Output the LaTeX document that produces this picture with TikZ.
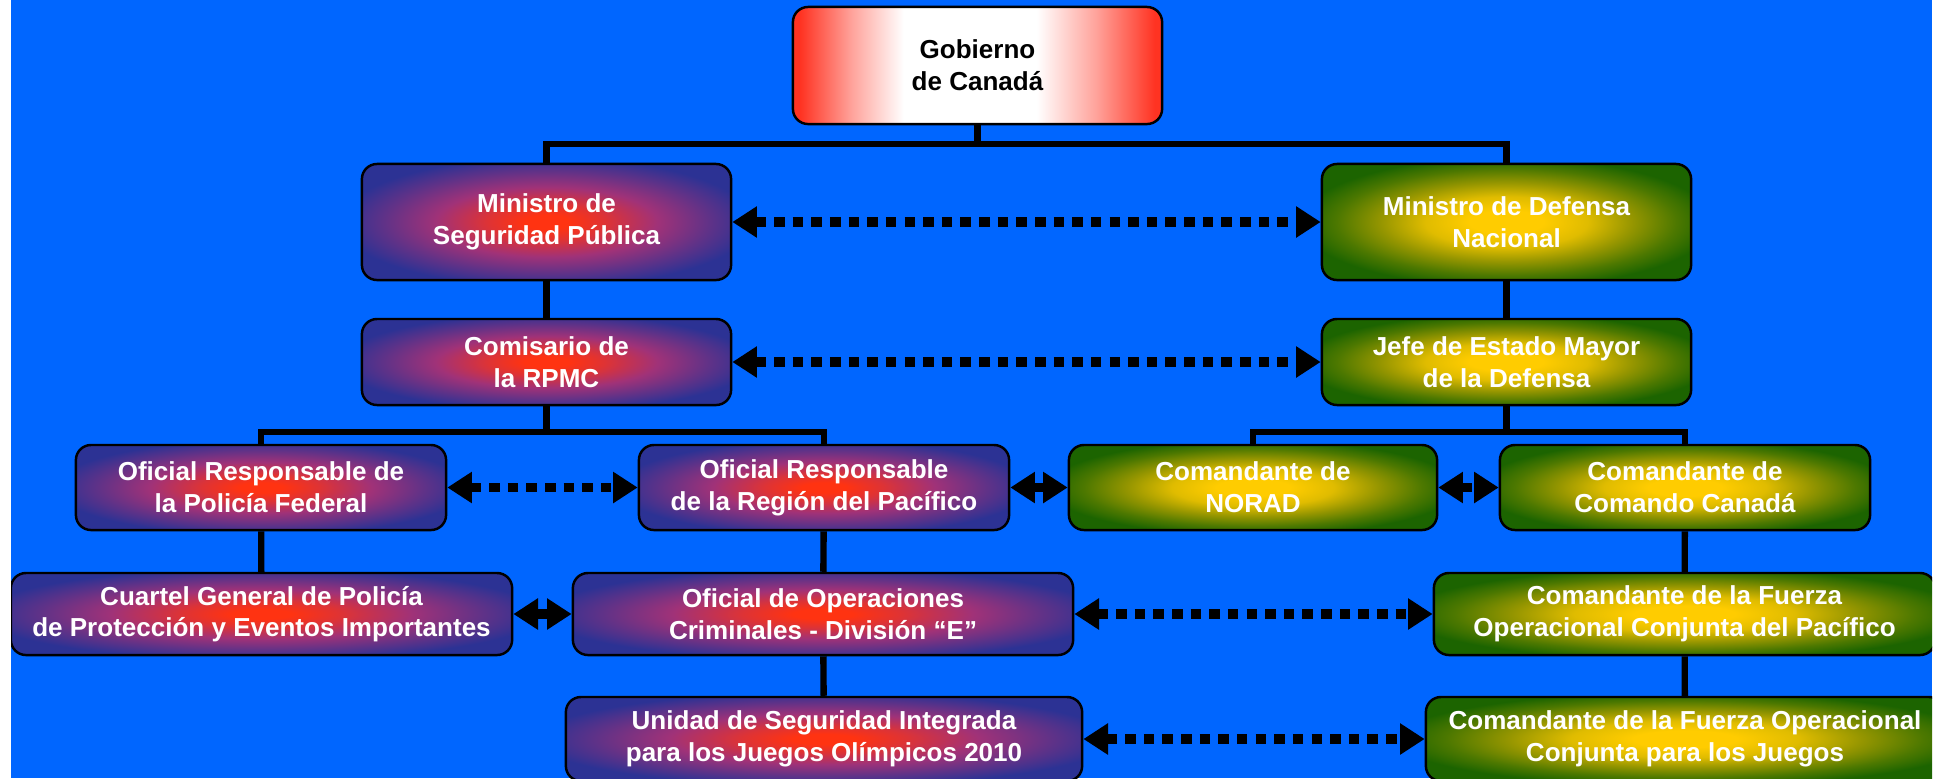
\documentclass[tikz,border=0pt]{standalone}
\usepackage{fontspec}
\setmainfont{Liberation Sans}
\usetikzlibrary{arrows.meta}

\definecolor{fondo}{RGB}{0,102,255}
\definecolor{rojo}{RGB}{255,51,17}
\definecolor{azul}{RGB}{44,50,148}
\definecolor{morado}{RGB}{160,50,120}
\definecolor{amarillo}{RGB}{255,204,0}
\definecolor{oliva}{RGB}{150,150,0}
\definecolor{verde}{RGB}{28,100,0}
\definecolor{rojogob}{RGB}{255,51,34}

\pgfdeclareradialshading{policia}{\pgfpoint{0bp}{0bp}}{color(0bp)=(rojo); color(3bp)=(rojo); color(8bp)=(rojo!65!morado); color(15bp)=(morado); color(22bp)=(morado!45!azul); color(28bp)=(azul); color(100bp)=(azul)}
\pgfdeclareradialshading{defensa}{\pgfpoint{0bp}{0bp}}{color(0bp)=(amarillo); color(5bp)=(amarillo); color(11bp)=(amarillo!70!oliva); color(17bp)=(oliva); color(23bp)=(oliva!40!verde); color(28bp)=(verde); color(100bp)=(verde)}
\pgfdeclarehorizontalshading{gobierno}{100bp}{color(0bp)=(rojogob); color(26bp)=(rojogob); color(33bp)=(rojogob!45!white); color(40bp)=(white); color(58bp)=(white); color(66bp)=(rojogob!45!white); color(74bp)=(rojogob); color(100bp)=(rojogob)}

\tikzset{
  caja/.style={draw=black, line width=0.7pt, rounded corners=4.3pt, inner sep=0pt, align=center, text=white, font=\fontsize{7.4}{9}\selectfont\bfseries},
  cajapol/.style={caja, shading=policia},
  cajadef/.style={caja, shading=defensa},
  link/.style={line width=1.8pt},
  enlace/.style={line width=2.6pt, dash pattern=on 3pt off 2.3pt, {Triangle[length=7pt,width=8.5pt]}-{Triangle[length=7pt,width=8.5pt]}}
}

\begin{document}
\begin{tikzpicture}[x=0.01cm, y=-0.01cm]
\useasboundingbox (0,0) rectangle (1943,778);
\fill[white] (0,0) rectangle (1943,778);
\fill[fondo] (11,0) rectangle (1932,778);
\begin{scope}
\clip (11,0) rectangle (1932,778);

% top
\node[caja, shading=gobierno, text=black, minimum width=3.69cm, minimum height=1.17cm] (gob) at (977.5,65.5) {Gobierno\\de Canadá};

% seguridad publica
\node[cajapol, minimum width=3.69cm, minimum height=1.16cm] (minsp) at (546.5,222) {Ministro de\\Seguridad Pública};
\node[cajapol, minimum width=3.69cm, minimum height=0.86cm] (comis) at (546.5,362) {Comisario de\\la RPMC};
\node[cajapol, minimum width=3.7cm, minimum height=0.85cm] (offed) at (261,487.5) {Oficial Responsable de\\la Policía Federal};
\node[cajapol, minimum width=3.7cm, minimum height=0.85cm] (ofpac) at (824,487.5) {Oficial Responsable\\de la Región del Pacífico};
\node[cajapol, minimum width=5.01cm, minimum height=0.82cm] (cuartel) at (261.5,614) {Cuartel General de Policía\\de Protección y Eventos Importantes};
\node[cajapol, minimum width=5.0cm, minimum height=0.82cm] (oper) at (823,614) {Oficial de Operaciones\\Criminales - División “E”};
\node[cajapol, minimum width=5.16cm, minimum height=0.84cm] (unidad) at (824,739) {Unidad de Seguridad Integrada\\para los Juegos Olímpicos 2010};

% defensa
\node[cajadef, minimum width=3.69cm, minimum height=1.16cm] (mindn) at (1506.5,222) {Ministro de Defensa\\Nacional};
\node[cajadef, minimum width=3.69cm, minimum height=0.86cm] (jefe) at (1506.5,362) {Jefe de Estado Mayor\\de la Defensa};
\node[cajadef, minimum width=3.68cm, minimum height=0.85cm] (norad) at (1253,487.5) {Comandante de\\NORAD};
\node[cajadef, minimum width=3.7cm, minimum height=0.85cm] (comcan) at (1685,487.5) {Comandante de\\Comando Canadá};
\node[cajadef, minimum width=5.01cm, minimum height=0.82cm] (fzpac) at (1684.5,614) {Comandante de la Fuerza\\Operacional Conjunta del Pacífico};
\node[cajadef, minimum width=5.18cm, minimum height=0.84cm] (fojue) at (1685,739) {Comandante de la Fuerza Operacional\\Conjunta para los Juegos};

% lineas de mando
\coordinate (r1) at (977,144);
\coordinate (r2) at (546,432);
\coordinate (r3) at (1507,432);
\draw[link] (gob.south) -- (gob.south |- r1);
\draw[link] (minsp.north) |- (r1) -| (mindn.north);
\draw[link] (minsp) -- (comis);
\draw[link] (mindn) -- (jefe);
\draw[link] (comis.south) -- (comis.south |- r2);
\draw[link] (offed.north) |- (r2) -| (ofpac.north);
\draw[link] (jefe.south) -- (jefe.south |- r3);
\draw[link] (norad.north) |- (r3) -| (comcan.north);
\draw[link] (offed) -- (cuartel);
\draw[link] (ofpac) -- (oper);
\draw[link] (oper) -- (unidad);
\draw[link] (comcan) -- (fzpac);
\draw[link] (fzpac) -- (fojue);

% coordinacion
\draw[enlace] (minsp.east) -- (mindn.west);
\draw[enlace] (comis.east) -- (jefe.west);
\draw[enlace] (offed.east) -- (ofpac.west);
\draw[enlace] (ofpac.east) -- (norad.west);
\draw[enlace] (norad.east) -- (comcan.west);
\draw[enlace] (cuartel.east) -- (oper.west);
\draw[enlace] (oper.east) -- (fzpac.west);
\draw[enlace] (unidad.east) -- (fojue.west);
\end{scope}
\end{tikzpicture}
\end{document}
